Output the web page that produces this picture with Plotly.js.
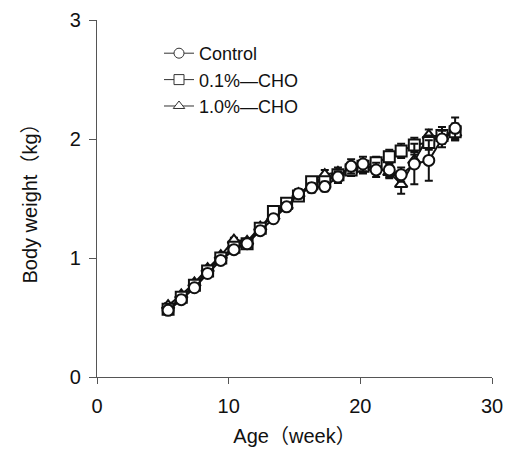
<!DOCTYPE html>
<html><head><meta charset="utf-8">
<script src="https://cdn.plot.ly/plotly-3.0.1.min.js"></script>
<style>html,body{margin:0;padding:0;background:#fff}#chart{width:511px;height:469px}</style>
</head><body><div id="chart"></div>
<script>
const weeks = [5.4,6.4,7.4,8.4,9.4,10.4,11.4,12.4,13.4,14.4,15.3,16.3,17.3,18.3,19.3,20.2,21.2,22.2,23.1,24.1,25.2,26.2,27.2];
const control = [0.56,0.65,0.75,0.87,0.98,1.07,1.12,1.23,1.33,1.43,1.54,1.59,1.60,1.68,1.77,1.79,1.74,1.74,1.70,1.79,1.82,2.00,2.09];
const controlErr = [0.02,0.02,0.02,0.02,0.02,0.02,0.02,0.03,0.03,0.03,0.04,0.04,0.04,0.05,0.06,0.06,0.06,0.06,0.06,0.17,0.17,0.07,0.09];
const cho01 = [0.57,0.67,0.77,0.89,1.00,1.09,1.12,1.25,1.39,1.46,1.52,1.64,1.64,1.70,1.74,1.77,1.80,1.85,1.90,1.95,1.97,2.03,2.06];
const cho01Err = [0.02,0.02,0.02,0.02,0.02,0.02,0.02,0.03,0.03,0.03,0.03,0.04,0.04,0.04,0.05,0.05,0.05,0.06,0.06,0.06,0.06,0.07,0.07];
const cho10 = [0.60,0.69,0.79,0.91,1.02,1.15,1.14,1.26,1.35,1.44,1.54,1.60,1.70,1.72,1.74,1.76,1.76,1.72,1.62,1.82,2.03,2.02,2.05];
const cho10Err = [0.02,0.02,0.02,0.02,0.02,0.02,0.02,0.03,0.03,0.03,0.03,0.04,0.04,0.04,0.04,0.05,0.05,0.05,0.08,0.05,0.05,0.05,0.06];
const names = ["Control","0.1%\u2014CHO","1.0%\u2014CHO"];
const symbols = ["circle","square","triangle-up"];

function mk(y, err, i){
  return {x: weeks, y: y, name: names[i], type:'scatter', mode:'lines+markers', showlegend:false,
    line:{color:'#111', width:2},
    marker:{symbol: symbols[i], size: 11, color:'#fff', line:{color:'#111', width:2}},
    error_y:{type:'data', array: err, visible:true, color:'#111', thickness:2, width:4}};
}
function leg(i){
  return {x:[null], y:[null], name: names[i], type:'scatter', mode:'lines+markers', showlegend:true,
    line:{color:'#333', width:1},
    marker:{symbol: symbols[i], size: 10, color:'#fff', line:{color:'#333', width:1}}};
}
const data = [mk(cho10, cho10Err, 2), mk(cho01, cho01Err, 1), mk(control, controlErr, 0), leg(0), leg(1), leg(2)];
const fontFam = 'Liberation Sans, Arial, Helvetica, Noto Sans CJK JP, sans-serif';
const layout = {
  width:511, height:469, margin:{l:97, r:19, t:20, b:92},
  paper_bgcolor:'#fff', plot_bgcolor:'#fff',
  font:{family: fontFam, size:19, color:'#111'},
  showlegend:true,
  legend:{x:0.157, y:0.958, xanchor:'left', yanchor:'top', bgcolor:'rgba(0,0,0,0)', font:{size:18}, tracegroupgap:0},
  xaxis:{range:[0,30], tickvals:[0,10,20,30], showline:true, linecolor:'#555', linewidth:1.2, ticks:'outside', ticklen:6, tickcolor:'#555', showgrid:false, zeroline:false,
    tickfont:{size:20}, ticklabelstandoff:5,
    title:{text:'Age\uFF08week\uFF09', font:{size:20}, standoff:12}},
  yaxis:{range:[0,3], tickvals:[0,1,2,3], showline:true, linecolor:'#555', linewidth:1.2, ticks:'outside', ticklen:7, tickcolor:'#555', showgrid:false, zeroline:false,
    tickfont:{size:20}, ticklabelstandoff:4,
    title:{text:'Body weight\uFF08kg\uFF09', font:{size:20}, standoff:26}}
};
Plotly.newPlot('chart', data, layout, {displayModeBar:false, staticPlot:true});
</script></body></html>
